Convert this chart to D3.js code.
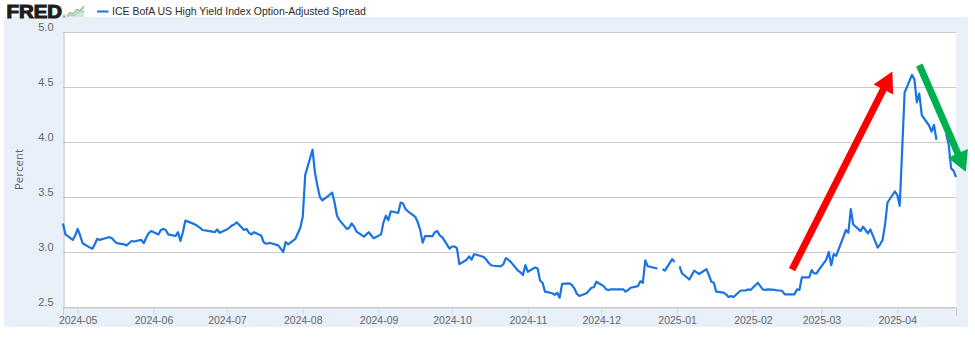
<!DOCTYPE html>
<html>
<head>
<meta charset="utf-8">
<script src="https://cdn.jsdelivr.net/npm/d3@7"></script>
<style>
  html, body { margin: 0; padding: 0; background: #fff; }
  svg { display: block; font-family: "Open Sans", sans-serif; }
</style>
</head>
<body>
<svg id="chart" width="975" height="337"></svg>
<script>
// ICE BofA US High Yield OAS, in percent, one value per weekday (null = no quote)
var seriesName = "ICE BofA US High Yield Index Option-Adjusted Spread";
var startDate = "2024-04-25";
var endDate = "2025-04-25";
var months = ["2024-04", "2024-05", "2024-06", "2024-07", "2024-08", "2024-09",
  "2024-10", "2024-11", "2024-12", "2025-01", "2025-02", "2025-03", "2025-04"];

var apr24 = [3.26, 3.16, 3.11, 3.15];
var may24 = [3.21, 3.15, 3.08, 3.04, 3.03, 3.07, 3.12, 3.11, 3.13, 3.135, 3.125, 3.10,
  3.08, 3.07, 3.06, 3.08, 3.10, 3.095, 3.11, 3.08, 3.13, 3.17, 3.19];
var jun24 = [3.16, 3.20, 3.21, 3.20, 3.16, 3.145, 3.18, 3.10, 3.18, 3.285, 3.26, 3.25,
  3.235, 3.22, 3.20, 3.19, 3.185, 3.18, 3.205, 3.175];
var jul24 = [3.205, 3.22, 3.24, 3.25, 3.27, 3.20, 3.21, 3.175, 3.16, 3.18, 3.15, 3.09,
  3.075, 3.08, 3.08, 3.06, 3.03, 3.00, 3.09, 3.07, 3.12, 3.17, 3.22];
var aug24 = [3.32, 3.70, 3.93, 3.72, 3.60, 3.50, 3.47, 3.52, 3.54, 3.45, 3.33, 3.29,
  3.21, 3.22, 3.26, 3.23, 3.185, 3.14, 3.16, 3.18, 3.15, 3.125];
var sep24 = [3.16, 3.27, 3.33, 3.29, 3.37, 3.355, 3.45, 3.44, 3.39, 3.37, 3.32, 3.27,
  3.20, 3.085, 3.145, 3.145, 3.18, 3.19, 3.15, 3.135, 3.03];
var oct24 = [3.05, 3.05, 3.035, 2.89, 2.93, 2.96, 2.93, 2.98, 2.975, 2.955, 2.93, 2.90,
  2.88, 2.875, 2.87, 2.89, 2.945, 2.93, 2.91, 2.83, 2.815, 2.79, 2.88];
var nov24 = [2.82, 2.86, 2.85, 2.74, 2.72, 2.64, 2.625, 2.61, 2.63, 2.585, 2.71, 2.715,
  2.70, 2.67, 2.62, 2.60, 2.625, 2.65, 2.675, 2.68, 2.73];
var dec24 = [2.69, 2.66, 2.655, 2.66, 2.66, 2.66, 2.66, 2.64, 2.655, 2.675, 2.69, 2.735,
  2.72, 2.925, 2.87, 2.855, 2.85, null, 2.845, 2.83, 2.935, 2.91];
var jan25 = [null, 2.87, 2.805, 2.75, 2.79, 2.83, 2.815, 2.80, 2.845, 2.79, 2.73, 2.72,
  2.64, 2.63, 2.615, 2.59, 2.60, 2.59, 2.65, 2.65, 2.65, 2.66, 2.655];
var feb25 = [2.72, 2.69, 2.66, 2.655, 2.66, 2.655, 2.65, 2.65, 2.645, 2.615, 2.615, 2.615,
  2.66, 2.655, 2.77, 2.77, 2.835, 2.805, 2.805, 2.84];
var mar25 = [2.93, 3.00, 2.88, 2.98, 2.965, 3.14, 3.20, 3.175, 3.39, 3.25, 3.19, 3.23,
  3.20, 3.17, 3.205, 3.04, 3.07, 3.11, 3.25, 3.45, 3.55];
var apr25 = [3.52, 3.42, 3.93, 4.45, 4.61, 4.57, 4.36, 4.44, 4.245, 4.15, 4.095, 4.155,
  4.02, null, 4.07, 3.98, 3.76, 3.74, 3.68];
var monthValues = [apr24, may24, jun24, jul24, aug24, sep24, oct24, nov24, dec24,
  jan25, feb25, mar25, apr25];

var yTicks = [2.5, 3.0, 3.5, 4.0, 4.5, 5.0];
var xTickLabels = ["2024-05", "2024-06", "2024-07", "2024-08", "2024-09", "2024-10",
  "2024-11", "2024-12", "2025-01", "2025-02", "2025-03", "2025-04"];

// hand drawn annotation arrows, [date, percent] at tail and tip
var arrowTails = [["2025-02-17", 2.84], ["2025-04-10", 4.70]];
var arrowTips = [["2025-03-30", 4.64], ["2025-04-29", 3.73]];
var arrowColors = ["#ff0000", "#00b050"];

var parse = d3.utcParse("%Y-%m-%d");

// spread weekday values over the calendar
var data = [];
months.forEach(function(m, i) {
  var d = i === 0 ? parse(startDate) : parse(m + "-01");
  var vals = monthValues[i];
  var k = 0;
  while (k < vals.length) {
    var wd = d.getUTCDay();
    if (wd !== 0 && wd !== 6) {
      data.push({ date: d, value: vals[k] });
      k++;
    }
    d = d3.utcDay.offset(d, 1);
  }
});

var svg = d3.select("#chart");
var margin = { top: 32, right: 19, bottom: 30, left: 63 };
var width = 975 - margin.left - margin.right,
  height = 337 - margin.top - margin.bottom;
var lineColor = "#1a73e3";

var x = d3.scaleUtc()
  .domain([parse(startDate), parse(endDate)])
  .range([margin.left, margin.left + width]);
var y = d3.scaleLinear()
  .domain([2.5, 5])
  .range([margin.top + height, margin.top]);

// light blue panel and white plot area
svg.append("rect")
  .attr("x", 4).attr("y", 17).attr("width", 964).attr("height", 310)
  .attr("fill", "#e8f0fa");
svg.append("rect")
  .attr("x", margin.left).attr("y", margin.top)
  .attr("width", width).attr("height", height)
  .attr("fill", "#fff");

// header: logo + legend
var head = svg.append("g");
head.append("text")
  .attr("x", 6.5).attr("y", 17.5)
  .attr("font-family", "Liberation Sans, Arial, sans-serif")
  .attr("font-weight", 900).attr("font-size", 17.5)
  .attr("textLength", 55.5).attr("lengthAdjust", "spacingAndGlyphs")
  .attr("fill", "#1e1e1e")
  .attr("stroke", "#1e1e1e").attr("stroke-width", 1.1)
  .text("FRED");
head.append("text")
  .attr("x", 62.5).attr("y", 18)
  .attr("font-size", 4).attr("fill", "#1e1e1e")
  .text("®");
head.append("path")
  .attr("d", "M67,17 L70,13 L73,14.5 L77,10 L80,11 L84,6 L84,17 Z")
  .attr("fill", "#d7e8d0");
head.append("polyline")
  .attr("points", "67,16 70,12.5 73,14 77,9.5 80,10.5 84,6")
  .attr("fill", "none").attr("stroke", "#8cc084").attr("stroke-width", 1.2);
head.append("polyline")
  .attr("points", "67,17 71,15 74,16 78,12.5 84,11")
  .attr("fill", "none").attr("stroke", "#9cc0e6").attr("stroke-width", 1);
head.append("line")
  .attr("x1", 97).attr("x2", 108.5).attr("y1", 11.5).attr("y2", 11.5)
  .attr("stroke", lineColor).attr("stroke-width", 2);
head.append("text")
  .attr("x", 112).attr("y", 15.3)
  .attr("font-family", "Liberation Sans, Arial, sans-serif")
  .attr("font-size", 10.5).attr("fill", "#2b2b2b")
  .text(seriesName);

// gridlines
svg.append("g")
  .selectAll("line")
  .data(yTicks)
  .join("line")
  .attr("x1", margin.left).attr("x2", margin.left + width)
  .attr("y1", function(d) { return Math.round(y(d)) + 0.5; })
  .attr("y2", function(d) { return Math.round(y(d)) + 0.5; })
  .attr("stroke", "#c9c9c9").attr("stroke-width", 1);

// left axis
var yAxis = svg.append("g")
  .attr("transform", "translate(" + (margin.left + 0.5) + ",0)")
  .call(d3.axisLeft(y).tickValues(yTicks).tickFormat(d3.format(".1f")).tickSize(0).tickPadding(10));
yAxis.select(".domain").attr("stroke", "#b8b8b8");
yAxis.selectAll("text")
  .attr("font-size", 11).attr("fill", "#666")
  .attr("dy", "-0.1em");

// bottom axis
var xAxis = svg.append("g")
  .attr("transform", "translate(0," + (margin.top + height + 0.5) + ")")
  .call(d3.axisBottom(x)
    .tickValues(xTickLabels.map(function(s) { return parse(s + "-01"); }))
    .tickFormat(d3.utcFormat("%Y-%m"))
    .tickSize(8).tickPadding(1));
xAxis.select(".domain").attr("stroke", "#c9c9c9");
xAxis.selectAll(".tick line").attr("stroke", "#d3dcea");
xAxis.selectAll("text").attr("font-size", 10.5).attr("fill", "#666");

svg.append("text")
  .attr("transform", "translate(23," + (margin.top + height / 2) + ") rotate(-90)")
  .attr("text-anchor", "middle")
  .attr("font-size", 11.5).attr("fill", "#666")
  .text("Percent");

// the series
var line = d3.line()
  .defined(function(d) { return d.value != null; })
  .x(function(d) { return x(d.date); })
  .y(function(d) { return y(d.value); });

svg.append("path")
  .datum(data)
  .attr("d", line)
  .attr("fill", "none")
  .attr("stroke", lineColor)
  .attr("stroke-width", 2.2)
  .attr("stroke-linejoin", "round");

// arrows
function arrowShape(x1, y1, x2, y2) {
  var shaft = 3.5, head = 11, headLen = 20;
  var dx = x2 - x1, dy = y2 - y1, len = Math.sqrt(dx * dx + dy * dy);
  var ux = dx / len, uy = dy / len, px = -uy, py = ux;
  var bx = x2 - ux * headLen, by = y2 - uy * headLen;
  var pts = [
    [x1 + px * shaft, y1 + py * shaft],
    [bx + px * shaft, by + py * shaft],
    [bx + px * head, by + py * head],
    [x2, y2],
    [bx - px * head, by - py * head],
    [bx - px * shaft, by - py * shaft],
    [x1 - px * shaft, y1 - py * shaft]
  ];
  return "M" + pts.map(function(p) { return p.join(","); }).join("L") + "Z";
}

svg.append("g")
  .selectAll("path")
  .data(arrowTails)
  .join("path")
  .attr("d", function(t, i) {
    var tip = arrowTips[i];
    return arrowShape(x(parse(t[0])), y(t[1]), x(parse(tip[0])), y(tip[1]));
  })
  .attr("fill", function(t, i) { return arrowColors[i]; });
</script>
</body>
</html>
